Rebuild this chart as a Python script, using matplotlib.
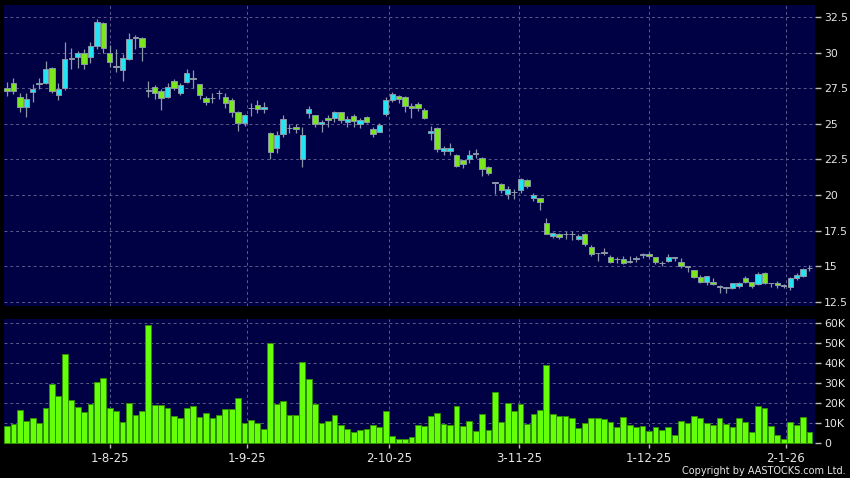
import numpy as np
import matplotlib
matplotlib.use("Agg")
import matplotlib.pyplot as plt

# --- data (HKD, daily, 126 sessions) ---
opens = [27.5, 27.9, 26.86, 26.21, 27.26, 27.9, 27.86, 28.95, 27.05, 27.51,
         29.62, 29.72, 29.95, 29.69, 30.46, 32.08, 30.0, 29.0, 28.79, 29.58,
         31.04, 31.04, 27.33, 27.57, 27.34, 26.85, 27.99, 27.2, 27.97, 28.15,
         27.8, 26.8, 26.8, 27.15, 26.87, 26.68, 25.86, 25.09, 26.1, 26.29,
         26.03, 24.35, 23.29, 24.28, 24.69, 24.76, 22.54, 25.79, 25.63, 24.97,
         25.39, 25.39, 25.81, 25.11, 25.58, 24.97, 25.46, 24.62, 24.46, 25.67,
         26.7, 26.98, 26.91, 26.28, 26.38, 25.95, 24.37, 24.72, 23.08, 23.08,
         22.85, 22.43, 22.55, 22.9, 22.62, 21.99, 20.86, 20.75, 20.09, 20.21,
         20.35, 21.03, 19.81, 19.81, 18.06, 17.13, 17.29, 17.26, 17.26, 16.91,
         17.29, 16.35, 15.92, 15.95, 15.64, 15.5, 15.5, 15.34, 15.52, 15.8,
         15.88, 15.64, 15.22, 15.36, 15.62, 15.29, 14.98, 14.75, 14.23, 13.88,
         13.9, 13.57, 13.5, 13.45, 13.62, 14.16, 13.88, 13.76, 14.51, 13.81,
         13.81, 13.64, 13.57, 14.16, 14.35, 14.86]
highs = [27.91, 28.25, 27.16, 27.16, 27.79, 28.21, 29.41, 28.97, 27.86, 30.74,
         30.34, 30.11, 30.23, 30.76, 32.36, 32.13, 30.5, 30.23, 29.88, 31.39,
         31.27, 31.06, 28.03, 27.73, 27.43, 27.9, 28.13, 27.85, 28.83, 28.79,
         27.82, 26.92, 27.15, 27.38, 27.2, 26.8, 25.88, 25.7, 26.45, 26.68,
         26.52, 24.46, 24.51, 25.63, 24.97, 24.97, 24.81, 26.28, 25.65, 25.28,
         25.6, 25.9, 25.83, 25.58, 25.67, 25.44, 25.55, 24.78, 25.04, 26.91,
         27.27, 27.03, 26.93, 26.45, 26.56, 26.09, 24.84, 24.79, 23.43, 23.67,
         22.87, 22.45, 23.2, 23.25, 22.69, 22.01, 20.95, 20.82, 20.63, 20.4,
         21.21, 21.14, 20.16, 19.83, 18.36, 17.41, 17.36, 17.45, 17.45, 17.29,
         17.31, 16.51, 15.95, 16.28, 15.8, 15.69, 15.74, 15.74, 15.74, 15.97,
         16.0, 15.66, 15.41, 15.85, 15.69, 15.57, 15.0, 14.77, 14.39, 14.34,
         14.16, 13.69, 13.57, 13.83, 13.92, 14.32, 13.92, 14.58, 14.58, 13.85,
         13.97, 13.76, 14.28, 14.51, 14.86, 15.1]
lows = [26.93, 27.09, 25.86, 25.47, 26.56, 27.44, 27.79, 27.16, 26.7, 27.4,
        28.83, 28.9, 28.83, 29.3, 30.27, 30.0, 29.0, 28.65, 28.02, 29.48,
        30.23, 29.41, 26.88, 26.73, 25.98, 26.8, 27.38, 27.03, 27.85, 27.5,
        26.75, 26.33, 26.45, 26.73, 26.1, 25.51, 24.53, 24.86, 25.56, 25.75,
        25.79, 22.52, 22.94, 24.06, 24.39, 24.39, 21.99, 25.44, 24.81, 24.46,
        24.81, 25.11, 25.04, 24.81, 24.81, 24.74, 25.04, 24.06, 24.41, 25.58,
        26.52, 26.45, 25.86, 25.44, 25.91, 25.32, 23.9, 23.01, 22.78, 22.78,
        21.96, 21.87, 22.27, 22.62, 21.33, 21.4, 20.05, 20.12, 19.7, 19.7,
        20.16, 20.51, 19.58, 18.95, 17.24, 16.96, 16.95, 16.91, 16.88, 16.86,
        16.44, 15.74, 15.41, 15.8, 15.26, 15.26, 15.2, 15.26, 15.34, 15.57,
        15.57, 15.15, 15.05, 15.29, 15.41, 14.86, 14.63, 14.16, 13.81, 13.69,
        13.66, 13.15, 13.15, 13.38, 13.45, 13.81, 13.45, 13.69, 13.76, 13.57,
        13.45, 13.45, 13.34, 14.05, 14.28, 14.7]
closes = [27.3, 27.3, 26.21, 26.75, 27.44, 27.78, 28.88, 27.28, 27.44, 29.53,
          29.55, 29.95, 29.23, 30.46, 32.15, 30.34, 29.37, 29.0, 29.65, 30.97,
          31.04, 30.39, 27.33, 27.15, 26.8, 27.57, 27.55, 27.71, 28.55, 28.15,
          26.99, 26.5, 26.8, 27.15, 26.45, 25.86, 25.09, 25.63, 26.1, 26.03,
          26.17, 23.01, 24.23, 25.33, 24.69, 24.62, 24.22, 26.05, 24.97, 25.11,
          25.25, 25.81, 25.3, 25.32, 25.2, 25.25, 25.16, 24.31, 24.92, 26.68,
          27.08, 26.73, 26.28, 26.09, 26.14, 25.39, 24.53, 23.25, 23.32, 23.32,
          22.03, 22.2, 22.85, 22.9, 21.85, 21.57, 20.86, 20.35, 20.4, 20.21,
          21.1, 20.63, 19.98, 19.51, 17.24, 17.31, 17.08, 17.26, 17.26, 17.15,
          16.58, 15.85, 15.92, 15.95, 15.34, 15.5, 15.26, 15.34, 15.52, 15.8,
          15.74, 15.29, 15.22, 15.64, 15.62, 15.03, 14.98, 14.23, 13.88, 14.32,
          13.74, 13.57, 13.5, 13.81, 13.81, 13.88, 13.62, 14.44, 13.81, 13.81,
          13.66, 13.64, 14.16, 14.39, 14.79, 14.86]
volume_k = [8.6, 9.3, 16.6, 11.1, 12.6, 10.0, 17.6, 29.5, 23.4, 44.4,
            21.4, 18.0, 15.4, 19.6, 30.2, 32.3, 17.6, 15.8, 10.3, 20.0,
            13.9, 15.8, 58.9, 18.7, 19.0, 17.2, 13.6, 12.3, 17.2, 18.2,
            12.8, 15.1, 12.3, 13.9, 16.7, 16.7, 22.6, 10.1, 11.4, 10.0,
            7.1, 49.9, 19.6, 20.7, 13.9, 13.9, 40.3, 31.8, 19.6, 10.1,
            10.9, 13.8, 9.1, 7.0, 5.6, 6.6, 7.1, 8.8, 8.0, 15.8,
            3.5, 2.2, 2.2, 3.0, 9.1, 8.5, 13.3, 14.9, 9.6, 8.8,
            18.2, 8.5, 11.1, 5.8, 14.3, 6.6, 25.4, 10.4, 19.7, 15.9,
            19.6, 9.3, 14.4, 16.3, 39.0, 14.4, 13.6, 13.6, 12.6, 7.3,
            9.8, 12.6, 12.3, 11.8, 10.4, 7.8, 12.9, 8.8, 8.1, 8.5,
            5.8, 7.8, 6.6, 7.8, 3.8, 10.9, 9.8, 13.3, 12.3, 9.8,
            9.0, 12.3, 9.3, 8.1, 12.3, 10.4, 5.6, 18.6, 17.6, 8.5,
            3.8, 2.2, 10.4, 9.0, 12.8, 5.5]

date_labels = ["1-8-25", "1-9-25", "2-10-25", "3-11-25", "1-12-25", "2-1-26"]
date_pos = [16.0, 37.35, 59.55, 79.75, 99.95, 121.3]
price_ticks = [12.5, 15, 17.5, 20, 22.5, 25, 27.5, 30, 32.5]
vol_ticks = [0, 10, 20, 30, 40, 50, 60]

# --- colours ---
NAVY = "#000044"
UP = "#22e4f2"
DOWN = "#7ae61c"
EDGE = "#8a98a8"
GRID = "#5c5c8c"
TXT = "#e6e6e6"

o = np.array(opens); h = np.array(highs); l = np.array(lows); c = np.array(closes)
x = np.arange(len(o))

fig = plt.figure(figsize=(8.5, 4.78), dpi=100, facecolor="black")
ax = fig.add_axes([4/850, 1-306/478, 811/850, 301/478])
axv = fig.add_axes([4/850, 1-444/478, 811/850, 125/478], sharex=ax)

for a in (ax, axv):
    a.set_facecolor(NAVY)
    for s in a.spines.values():
        s.set_visible(False)
    a.yaxis.tick_right()
    a.tick_params(axis="y", colors="#bbbbbb", labelcolor=TXT, length=4,
                  width=1, pad=2.5, labelsize=7.8)
    a.grid(True, color=GRID, linestyle=(0, (3, 3)), linewidth=0.7)
    a.set_axisbelow(True)

# candles
ax.vlines(x, l, h, color=EDGE, linewidth=0.9, zorder=2)
cols = [UP if cc > oo else (DOWN if cc < oo else EDGE) for oo, cc in zip(o, c)]
bottoms = np.minimum(o, c)
heights = np.maximum(np.abs(c - o), 0.04)
ax.bar(x, heights, bottom=bottoms, width=0.84, color=cols,
       edgecolor=EDGE, linewidth=0.7, zorder=3)

ax.set_ylim(12.22, 33.34)
ax.set_yticks(price_ticks)
ax.set_yticklabels([f"{t:g}" for t in price_ticks])
ax.tick_params(axis="x", length=0, labelbottom=False)

# volume
axv.bar(x, volume_k, width=0.9, color="#66ff0a", edgecolor="#2f8f00",
        linewidth=0.7, zorder=3)
axv.set_ylim(-0.5, 61.8)
axv.set_yticks(vol_ticks)
axv.set_yticklabels(["0"] + [f"{t}K" for t in vol_ticks[1:]])

axv.set_xlim(-0.47, 125.86)
axv.set_xticks(date_pos)
axv.set_xticklabels(date_labels)
axv.tick_params(axis="x", colors="#bbbbbb", labelcolor=TXT, length=3,
                width=1, pad=3, labelsize=8.5)

fig.text(0.995, 1 - 471.5/478, "Copyright by AASTOCKS.com Ltd.", color=TXT,
         fontsize=7, ha="right", va="center")

fig.savefig("out.png", dpi=100, facecolor="black")
